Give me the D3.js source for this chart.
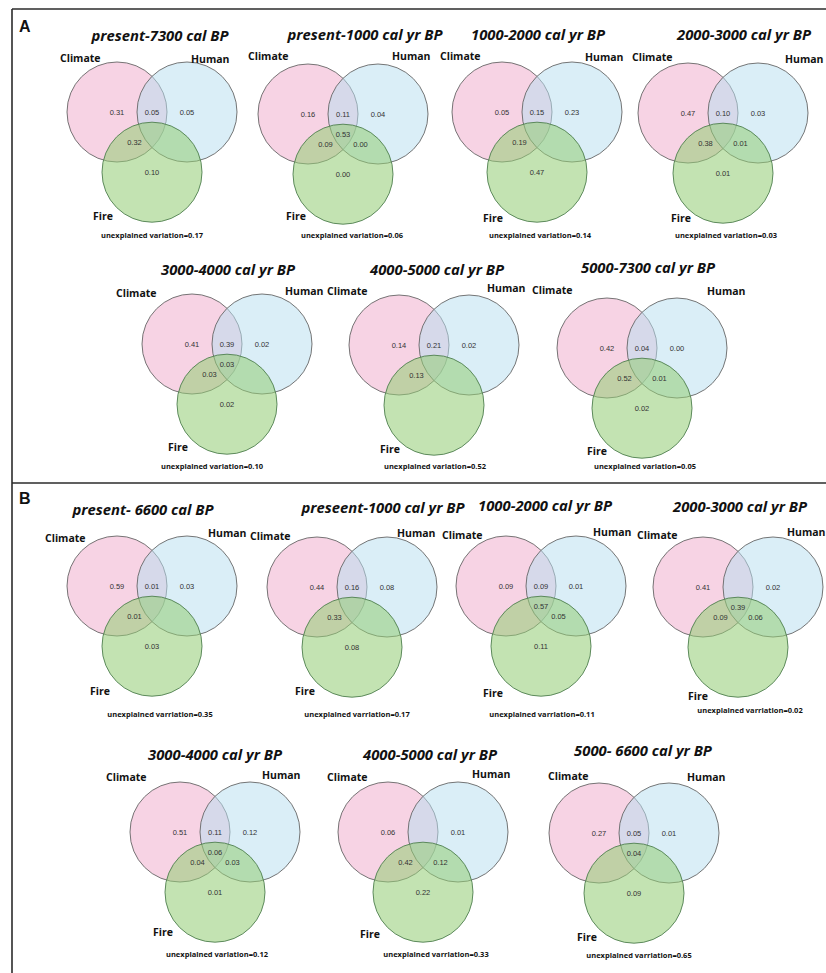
<!DOCTYPE html>
<html>
<head>
<meta charset="utf-8">
<script src="https://cdn.jsdelivr.net/npm/d3@7"></script>
<style>
  html, body { margin: 0; padding: 0; background: #fff; }
  svg { display: block; }
</style>
</head>
<body>
<svg id="chart" width="826" height="973"></svg>
<script>
// Variance partitioning (Climate / Human / Fire) for each time window.
const groupLetters = ["A", "B"];
const periods = [
  "present-7300 cal BP", "present-1000 cal yr BP", "1000-2000 cal yr BP", "2000-3000 cal yr BP",
  "3000-4000 cal yr BP", "4000-5000 cal yr BP", "5000-7300 cal yr BP",
  "present- 6600 cal BP", "preseent-1000 cal yr BP", "1000-2000 cal yr BP", "2000-3000 cal yr BP",
  "3000-4000 cal yr BP", "4000-5000 cal yr BP", "5000- 6600 cal yr BP"
];
const setNames = ["Climate", "Human", "Fire"];
// Unique and shared fractions (null = not shown)
const climateOnly  = [0.31, 0.16, 0.05, 0.47, 0.41, 0.14, 0.42, 0.59, 0.44, 0.09, 0.41, 0.51, 0.06, 0.27];
const climateHuman = [0.05, 0.11, 0.15, 0.10, 0.39, 0.21, 0.04, 0.01, 0.16, 0.09, null, 0.11, null, 0.05];
const humanOnly    = [0.05, 0.04, 0.23, 0.03, 0.02, 0.02, 0.00, 0.03, 0.08, 0.01, 0.02, 0.12, 0.01, 0.01];
const allThree     = [null, 0.53, null, null, 0.03, null, null, null, null, 0.57, 0.39, 0.06, null, 0.04];
const climateFire  = [0.32, 0.09, 0.19, 0.38, 0.03, 0.13, 0.52, 0.01, 0.33, null, 0.09, 0.04, 0.42, null];
const humanFire    = [null, 0.00, null, 0.01, null, null, 0.01, null, null, 0.05, 0.06, 0.03, 0.12, null];
const fireOnly     = [0.10, 0.00, 0.47, 0.01, 0.02, null, 0.02, 0.03, 0.08, 0.11, null, 0.01, 0.22, 0.09];
const unexplained  = [0.17, 0.06, 0.14, 0.03, 0.10, 0.52, 0.05, 0.35, 0.17, 0.11, 0.02, 0.12, 0.33, 0.65];
const unexplainedLabel = [
  "unexplained variation", "unexplained variation", "unexplained variation", "unexplained variation",
  "unexplained variation", "unexplained variation", "unexplained variation",
  "unexplained varriation", "unexplained varriation", "unexplained varriation", "unexplained varriation",
  "unexplained variation", "unexplained varriation", "unexplained varriation"
];

// Placement of each diagram: Climate circle centre, title, set labels, footnote.
const layout = [
  { cx: 117, cy: 112, tx: 160, ty: 41, lc: [60, 62], lh: [191, 63], lf: [93, 220], ux: 152, uy: 238 },
  { cx: 308, cy: 114, tx: 365, ty: 40, lc: [248, 60], lh: [392, 60], lf: [286, 220], ux: 352, uy: 238 },
  { cx: 502, cy: 112, tx: 538, ty: 40, lc: [440, 60], lh: [585, 61], lf: [483, 222], ux: 540, uy: 238 },
  { cx: 688, cy: 113, tx: 744, ty: 40, lc: [632, 61], lh: [785, 63], lf: [671, 222], ux: 726, uy: 238 },
  { cx: 192, cy: 344, tx: 228, ty: 275, lc: [116, 297], lh: [285, 295], lf: [168, 451], ux: 212, uy: 469 },
  { cx: 399, cy: 345, tx: 437, ty: 275, lc: [327, 295], lh: [487, 292], lf: [380, 453], ux: 435, uy: 469 },
  { cx: 607, cy: 348, tx: 648, ty: 273, lc: [532, 294], lh: [707, 295], lf: [587, 455], ux: 645, uy: 469 },
  { cx: 117, cy: 586, tx: 143, ty: 515, lc: [45, 542], lh: [208, 537], lf: [90, 695], ux: 160, uy: 717 },
  { cx: 317, cy: 587, tx: 383, ty: 513, lc: [250, 540], lh: [397, 537], lf: [295, 695], ux: 357, uy: 717 },
  { cx: 506, cy: 586, tx: 545, ty: 511, lc: [442, 539], lh: [593, 536], lf: [483, 697], ux: 542, uy: 717 },
  { cx: 703, cy: 587, tx: 740, ty: 512, lc: [637, 539], lh: [787, 536], lf: [688, 700], ux: 750, uy: 713 },
  { cx: 180, cy: 832, tx: 215, ty: 760, lc: [106, 781], lh: [262, 779], lf: [153, 936], ux: 217, uy: 957 },
  { cx: 388, cy: 832, tx: 430, ty: 760, lc: [327, 781], lh: [472, 778], lf: [360, 938], ux: 436, uy: 957 },
  { cx: 599, cy: 833, tx: 643, ty: 756, lc: [548, 780], lh: [687, 781], lf: [577, 941], ux: 639, uy: 958 }
];

const unitPx = 70;           // distance between circle centres
const circleR = 50 / unitPx; // radius in centre-distance units
// Circle centres in centre-distance units
const circleCentres = [[0, 0], [1, 0], [0.5, 0.86]];
const circleFill = ["rgba(238,158,196,0.45)", "rgba(185,222,240,0.52)", "rgba(148,205,118,0.56)"];
const circleStroke = ["#666", "#666", "#4f7f4f"];
// Text anchor for each region, same units
const regionSpots = [
  { vals: climateOnly,  p: [0, 0] },
  { vals: climateHuman, p: [0.5, 0] },
  { vals: humanOnly,    p: [1, 0] },
  { vals: allThree,     p: [0.5, 0.29] },
  { vals: climateFire,  p: [0.25, 0.43] },
  { vals: humanFire,    p: [0.75, 0.43] },
  { vals: fireOnly,     p: [0.5, 0.86] }
];

const fmt = d3.format(".2f");
const svg = d3.select("#chart");

// Frame around the two panels
const frame = svg.append("g").attr("stroke", "#2b2b2b").attr("stroke-width", 1.6).attr("fill", "none");
frame.append("line").attr("x1", 12).attr("x2", 12).attr("y1", 9).attr("y2", 973);
frame.append("line").attr("x1", 12).attr("x2", 826).attr("y1", 9).attr("y2", 9);
frame.append("line").attr("x1", 12).attr("x2", 826).attr("y1", 483).attr("y2", 483);

svg.selectAll("text.panel-letter")
  .data(groupLetters)
  .join("text")
  .attr("class", "panel-letter")
  .attr("x", 19)
  .attr("y", (d, i) => i === 0 ? 32 : 504)
  .attr("font-family", "Liberation Sans, Arial, sans-serif")
  .attr("font-weight", "bold")
  .attr("font-size", 16)
  .attr("fill", "#111")
  .text(d => d);

periods.forEach((title, i) => {
  const L = layout[i];
  const x = d3.scaleLinear().domain([0, 1]).range([L.cx, L.cx + unitPx]);
  const y = d3.scaleLinear().domain([0, 1]).range([L.cy, L.cy + unitPx]);
  const g = svg.append("g");

  g.selectAll("circle")
    .data(circleCentres)
    .join("circle")
    .attr("cx", d => x(d[0]))
    .attr("cy", d => y(d[1]))
    .attr("r", x(circleR) - x(0))
    .attr("fill", (d, k) => circleFill[k])
    .attr("stroke", (d, k) => circleStroke[k])
    .attr("stroke-width", 0.9);

  g.append("text")
    .attr("x", L.tx).attr("y", L.ty)
    .attr("text-anchor", "middle")
    .attr("font-family", "Open Sans, sans-serif")
    .attr("font-weight", "bold")
    .attr("font-style", "italic")
    .attr("font-size", 14.8)
    .attr("fill", "#111")
    .text(title);

  const labelPos = [L.lc, L.lh, L.lf];
  g.selectAll("text.set")
    .data(setNames)
    .join("text")
    .attr("class", "set")
    .attr("x", (d, k) => labelPos[k][0])
    .attr("y", (d, k) => labelPos[k][1])
    .attr("font-family", "Open Sans, sans-serif")
    .attr("font-weight", "bold")
    .attr("font-size", 10.5)
    .attr("fill", "#111")
    .text(d => d);

  const spots = regionSpots.filter(s => s.vals[i] !== null);
  g.selectAll("text.val")
    .data(spots)
    .join("text")
    .attr("class", "val")
    .attr("x", s => x(s.p[0]))
    .attr("y", s => y(s.p[1]))
    .attr("dy", "0.35em")
    .attr("text-anchor", "middle")
    .attr("font-family", "Liberation Sans, Arial, sans-serif")
    .attr("font-size", 7.5)
    .attr("fill", "#333")
    .text(s => fmt(s.vals[i]));

  g.append("text")
    .attr("x", L.ux).attr("y", L.uy)
    .attr("text-anchor", "middle")
    .attr("font-family", "Open Sans, sans-serif")
    .attr("font-weight", "bold")
    .attr("font-size", 7.5)
    .attr("fill", "#111")
    .text(unexplainedLabel[i] + "=" + fmt(unexplained[i]));
});
</script>
</body>
</html>
